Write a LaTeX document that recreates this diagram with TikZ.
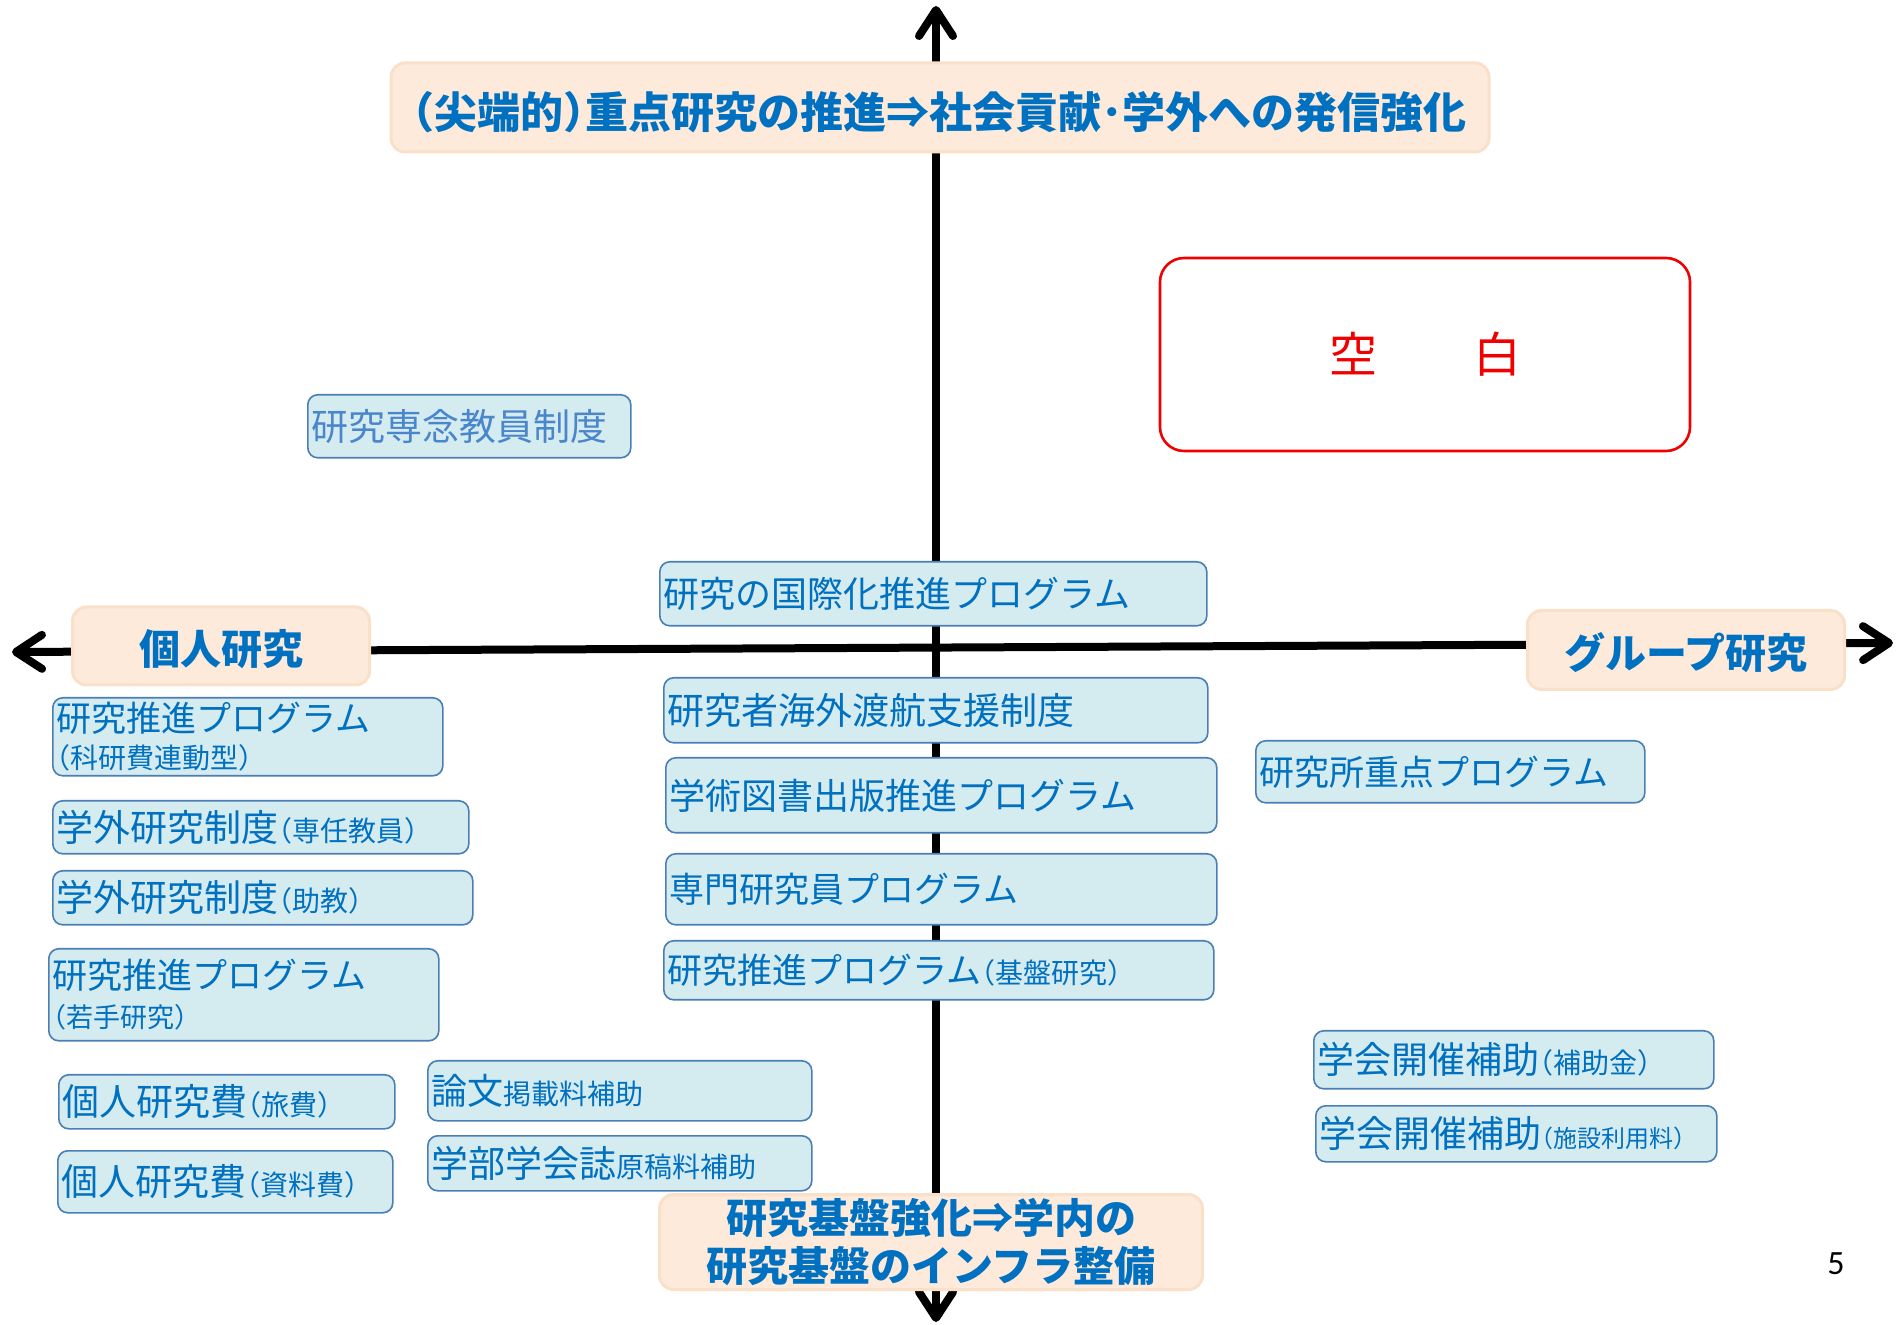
\documentclass[tikz,border=0pt]{standalone}
\usepackage{fontspec}
\newfontfamily\jp{Noto Sans CJK JP}
\newfontfamily\numfont{Carlito}
\usetikzlibrary{arrows.meta}
\definecolor{jblue}{RGB}{0,112,192}
\definecolor{jbluelight}{RGB}{74,134,204}
\definecolor{boxfill}{RGB}{212,235,239}
\definecolor{boxline}{RGB}{74,126,180}
\definecolor{peach}{RGB}{253,234,218}
\definecolor{peachline}{RGB}{250,224,200}
\definecolor{redline}{RGB}{240,0,0}
\newcommand\jfs[2]{\fontsize{#1pt}{#2pt}\selectfont}
\newcommand\lp{\leavevmode\hbox to 0.5em{\hss（}}
\newcommand\rp{\hbox to 0.5em{）\hss}}
\newcommand\sm[2]{\leavevmode{\jfs{#1}{#1}\lp #2\rp}}
\begin{document}
\begin{tikzpicture}[x=0.5pt,y=-0.5pt,
  axisline/.style={line width=4pt,
    {Straight Barb[round,length=13pt,width=17pt]}-{Straight Barb[round,length=13pt,width=17pt]}},
  bbox/.style={draw=boxline, fill=boxfill, line width=0.8pt, rounded corners=5pt,
    anchor=north west, align=left, inner xsep=2pt, inner ysep=0pt, text=jblue, font=\jp},
  pbox/.style={fill=peach, draw=peachline, line width=1.5pt, rounded corners=7pt,
    inner sep=0pt, text=jblue, align=center},
  redbox/.style={draw=redline, fill=white, line width=1.3pt, rounded corners=12pt,
    inner sep=0pt, text=redline, font=\jp}
]
\useasboundingbox (0,0) rectangle (1897,1325);
\fill[white] (0,0) rectangle (1897,1325);

% axes
\coordinate (hl) at (12,652);
\coordinate (hr) at (1893,643);
\coordinate (vt) at (936,6);
\coordinate (vb) at (936,1322);
\draw[axisline] (hl) -- (hr);
\draw[axisline] (vb) -- (vt);

% peach labels
\node[pbox, font=\jp\bfseries\jfs{21.5}{25}, text height=22.5pt, text depth=1pt,
  minimum width=549pt, minimum height=44.5pt] (top) at (940,107.5)
  {\lp 尖端的\rp 重点研究の推進⇒社会貢献･学外への発信強化};
\node[pbox, font=\jp\bfseries\jfs{20.5}{24}, text height=20pt, text depth=1pt,
  minimum width=148.5pt, minimum height=39pt] (indiv) at (221,646)
  {個人研究};
\node[pbox, font=\jp\bfseries\jfs{20.5}{24}, text height=20pt, text depth=1pt,
  minimum width=158.5pt, minimum height=39.5pt] (group) at (1686,650)
  {グループ研究};
\node[pbox, font=\jp\bfseries\jfs{20.5}{24},
  minimum width=271.5pt, minimum height=47.5pt] (bottom) at (931,1242)
  {\raisebox{-2pt}{研究基盤強化⇒学内の}\\\raisebox{-2pt}{研究基盤のインフラ整備}};

% blank box
\node[redbox, minimum width=265pt, minimum height=96.5pt] (blank) at (1425,354.5)
  {\jfs{24}{28}空　　白};

% blue boxes
\node[bbox, text=jbluelight, text width=157.5pt, minimum height=31.5pt] (b1) at (307,394)
  {\jfs{18.5}{22}研究専念教員制度};
\node[bbox, text width=269.5pt, minimum height=32pt] (b2) at (659,561)
  {\jfs{18}{22}研究の国際化推進プログラム};
\node[bbox, text width=268pt, minimum height=32.5pt] (b3) at (663,677)
  {\jfs{18.5}{22}研究者海外渡航支援制度};
\node[bbox, text width=271.5pt, minimum height=37.5pt] (b4) at (665,757)
  {\jfs{18}{22}学術図書出版推進プログラム};
\node[bbox, text width=271.5pt, minimum height=35.5pt] (b5) at (665,853)
  {\jfs{17.5}{22}専門研究員プログラム};
\node[bbox, text width=271pt, minimum height=29.5pt] (b6) at (663,940)
  {\jfs{17.5}{22}研究推進プログラム\sm{14}{基盤研究}};

\node[bbox, font=\jp\jfs{17.5}{18.8}, text width=191pt, minimum height=39pt] (b7) at (52,697)
  {研究推進プログラム\\\sm{14}{科研費連動型}};
\node[bbox, text width=204pt, minimum height=26.5pt] (b8) at (52,800)
  {\jfs{18.5}{22}学外研究制度\sm{14}{専任教員}};
\node[bbox, text width=206pt, minimum height=27pt] (b9) at (52,870)
  {\jfs{18.5}{22}学外研究制度\sm{14}{助教}};
\node[bbox, font=\jp\jfs{17.5}{19.4}, text width=191pt, minimum height=46pt] (b10) at (48,948)
  {研究推進プログラム\\\sm{13.5}{若手研究}};
\node[bbox, text width=164pt, minimum height=27pt] (b11) at (58,1074)
  {\jfs{18.5}{22}個人研究費\sm{14}{旅費}};
\node[bbox, text width=163.5pt, minimum height=31pt] (b12) at (57,1150)
  {\jfs{18.5}{22}個人研究費\sm{14}{資料費}};
\node[bbox, text width=188pt, minimum height=30pt] (b13) at (427,1060)
  {\jfs{18}{22}論文{\jfs{14}{16}掲載料補助}};
\node[bbox, text width=188pt, minimum height=27.5pt] (b14) at (427,1135)
  {\jfs{18.5}{22}学部学会誌{\jfs{14}{16}原稿料補助}};

\node[bbox, text width=190.5pt, minimum height=31pt] (b15) at (1255,740)
  {\jfs{17.5}{22}研究所重点プログラム};
\node[bbox, text width=196pt, minimum height=29pt] (b16) at (1313,1030)
  {\jfs{18.5}{22}学会開催補助\sm{14}{補助金}};
\node[bbox, text width=196.5pt, minimum height=28pt] (b17) at (1315,1105)
  {\jfs{18.5}{22}学会開催補助\sm{12}{施設利用料}};

% page number
\node[font=\numfont\jfs{17}{20}, inner sep=0pt] (pnum) at (1836,1264) {5};
\end{tikzpicture}
\end{document}
